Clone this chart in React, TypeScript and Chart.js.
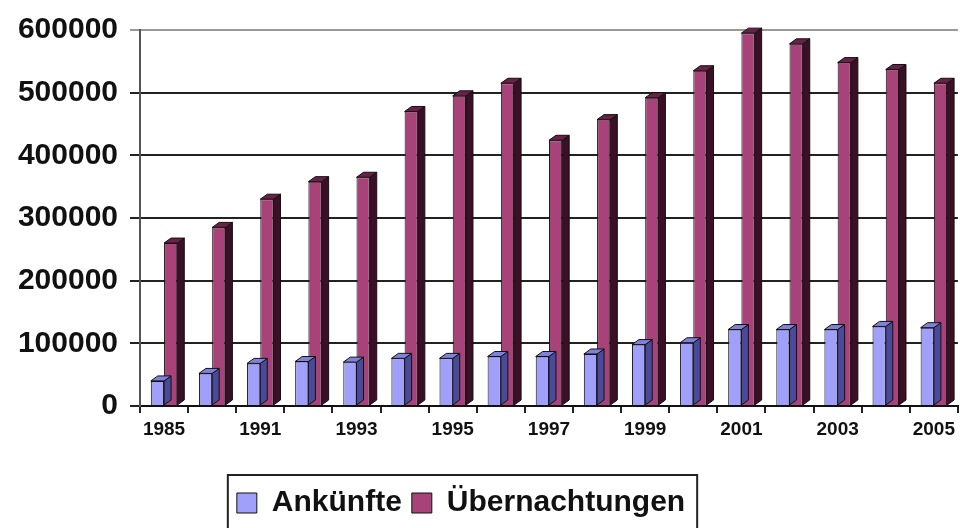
import React, { useEffect, useRef } from 'react';
import { Chart, registerables } from 'chart.js';

Chart.register(...registerables);

const categories = ['1985', '1990', '1991', '1992', '1993', '1994', '1995', '1996', '1997', '1998', '1999', '2000', '2001', '2002', '2003', '2004', '2005'];
const ankuenfte = [40000, 52000, 68000, 71000, 70000, 76000, 76000, 79000, 79000, 83000, 98000, 101000, 122000, 122000, 122000, 127000, 125000];
const uebernachtungen = [260000, 285000, 330000, 358000, 365000, 470000, 495000, 515000, 424000, 457000, 492000, 535000, 595000, 578000, 548000, 537000, 515000];
const seriesNames = ['Ankünfte', 'Übernachtungen'];
const yMin = 0;
const yMax = 600000;
const yStep = 100000;

const FONT = '"Liberation Sans", Arial, Helvetica, sans-serif';

const depthPlugin = {
  id: 'depth3d',
  afterDatasetDraw(chart: any, args: any) {
    const meta = args.meta;
    const ds: any = chart.data.datasets[args.index];
    const ctx = chart.ctx;
    const dx = 7;
    const dy = 5;
    ctx.save();
    meta.data.forEach((bar: any) => {
      const { x, y, base, width } = bar.getProps(['x', 'y', 'base', 'width'], true);
      const l = x - width / 2;
      const r = x + width / 2;
      ctx.lineWidth = 1;
      ctx.strokeStyle = '#111';
      ctx.beginPath();
      ctx.moveTo(r, y);
      ctx.lineTo(r + dx, y - dy);
      ctx.lineTo(r + dx, base - dy);
      ctx.lineTo(r, base);
      ctx.closePath();
      ctx.fillStyle = ds.sideColor;
      ctx.fill();
      ctx.stroke();
      ctx.beginPath();
      ctx.moveTo(l, y);
      ctx.lineTo(l + dx, y - dy);
      ctx.lineTo(r + dx, y - dy);
      ctx.lineTo(r, y);
      ctx.closePath();
      ctx.fillStyle = ds.topColor;
      ctx.fill();
      ctx.stroke();
    });
    ctx.restore();
  },
};

const legendShiftPlugin = {
  id: 'legendShift',
  afterLayout(chart: any) {
    const lg = chart.legend;
    if (!lg) return;
    lg.left -= 19;
    lg.right -= 19;
  },
};

const legendBorderPlugin = {
  id: 'legendBorder',
  afterDraw(chart: any) {
    const lg = chart.legend;
    if (!lg || !lg.legendHitBoxes || !lg.legendHitBoxes.length) return;
    const boxes = lg.legendHitBoxes;
    const left = Math.min(...boxes.map((b: any) => b.left));
    const right = Math.max(...boxes.map((b: any) => b.left + b.width));
    const top = Math.min(...boxes.map((b: any) => b.top));
    const ctx = chart.ctx;
    ctx.save();
    ctx.strokeStyle = '#222';
    ctx.lineWidth = 2;
    ctx.strokeRect(left - 9, top - 13, right - left + 21, chart.height);
    ctx.restore();
  },
};

export default function App() {
  const ref = useRef<HTMLCanvasElement | null>(null);

  useEffect(() => {
    if (!ref.current) return;
    const chart = new Chart(ref.current, {
      type: 'bar',
      data: {
        labels: categories,
        datasets: [
          {
            label: seriesNames[0],
            data: ankuenfte,
            backgroundColor: '#a0a0fa',
            borderColor: '#111',
            borderWidth: 1,
            categoryPercentage: 0.55,
            barPercentage: 1,
            sideColor: '#4a4a99',
            topColor: '#8080dd',
          } as any,
          {
            label: seriesNames[1],
            data: uebernachtungen,
            backgroundColor: '#a8437a',
            borderColor: '#111',
            borderWidth: 1,
            categoryPercentage: 0.55,
            barPercentage: 1,
            sideColor: '#3b0f26',
            topColor: '#6b2048',
          } as any,
        ],
      },
      options: {
        responsive: false,
        animation: false,
        layout: { padding: { top: 10, right: 0, left: 0, bottom: 0 } },
        plugins: {
          tooltip: { enabled: false },
          legend: {
            position: 'bottom',
            labels: {
              font: { family: FONT, size: 30, weight: 'bold' },
              color: '#111',
              boxWidth: 20,
              boxHeight: 20,
              padding: 10,
            },
          },
        },
        scales: {
          x: {
            offset: true,
            grid: {
              offset: true,
              drawOnChartArea: false,
              drawTicks: true,
              tickLength: 7,
              color: '#222',
              lineWidth: 2,
            },
            border: { display: true, color: '#111', width: 2 },
            ticks: {
              autoSkip: false,
              maxRotation: 0,
              minRotation: 0,
              padding: 5,
              color: '#111',
              font: { family: FONT, size: 19, weight: 'bold' },
              callback: (_v: any, i: number) => (i % 2 === 0 ? categories[i] : ''),
            },
            afterFit: (scale: any) => {
              scale.height = 72;
            },
          },
          y: {
            min: yMin,
            max: yMax,
            grid: {
              color: (c: any) => (c.tick && c.tick.value === yMax ? '#999' : '#222'),
              lineWidth: 2,
              drawTicks: true,
              tickLength: 10,
            },
            border: { display: true, color: '#555', width: 2 },
            ticks: {
              stepSize: yStep,
              padding: 12,
              color: '#111',
              font: { family: FONT, size: 30, weight: 'bold' },
              callback: (v: any) => String(v),
            },
            afterFit: (scale: any) => {
              scale.width = 140;
            },
          },
        },
      } as any,
      plugins: [depthPlugin, legendShiftPlugin, legendBorderPlugin],
    });
    return () => chart.destroy();
  }, []);

  return (
    <div style={{ position: 'absolute', left: 0, top: 0, width: 960, height: 528, background: '#fff' }}>
      <canvas ref={ref} width={960} height={528} style={{ display: 'block' }} />
    </div>
  );
}
